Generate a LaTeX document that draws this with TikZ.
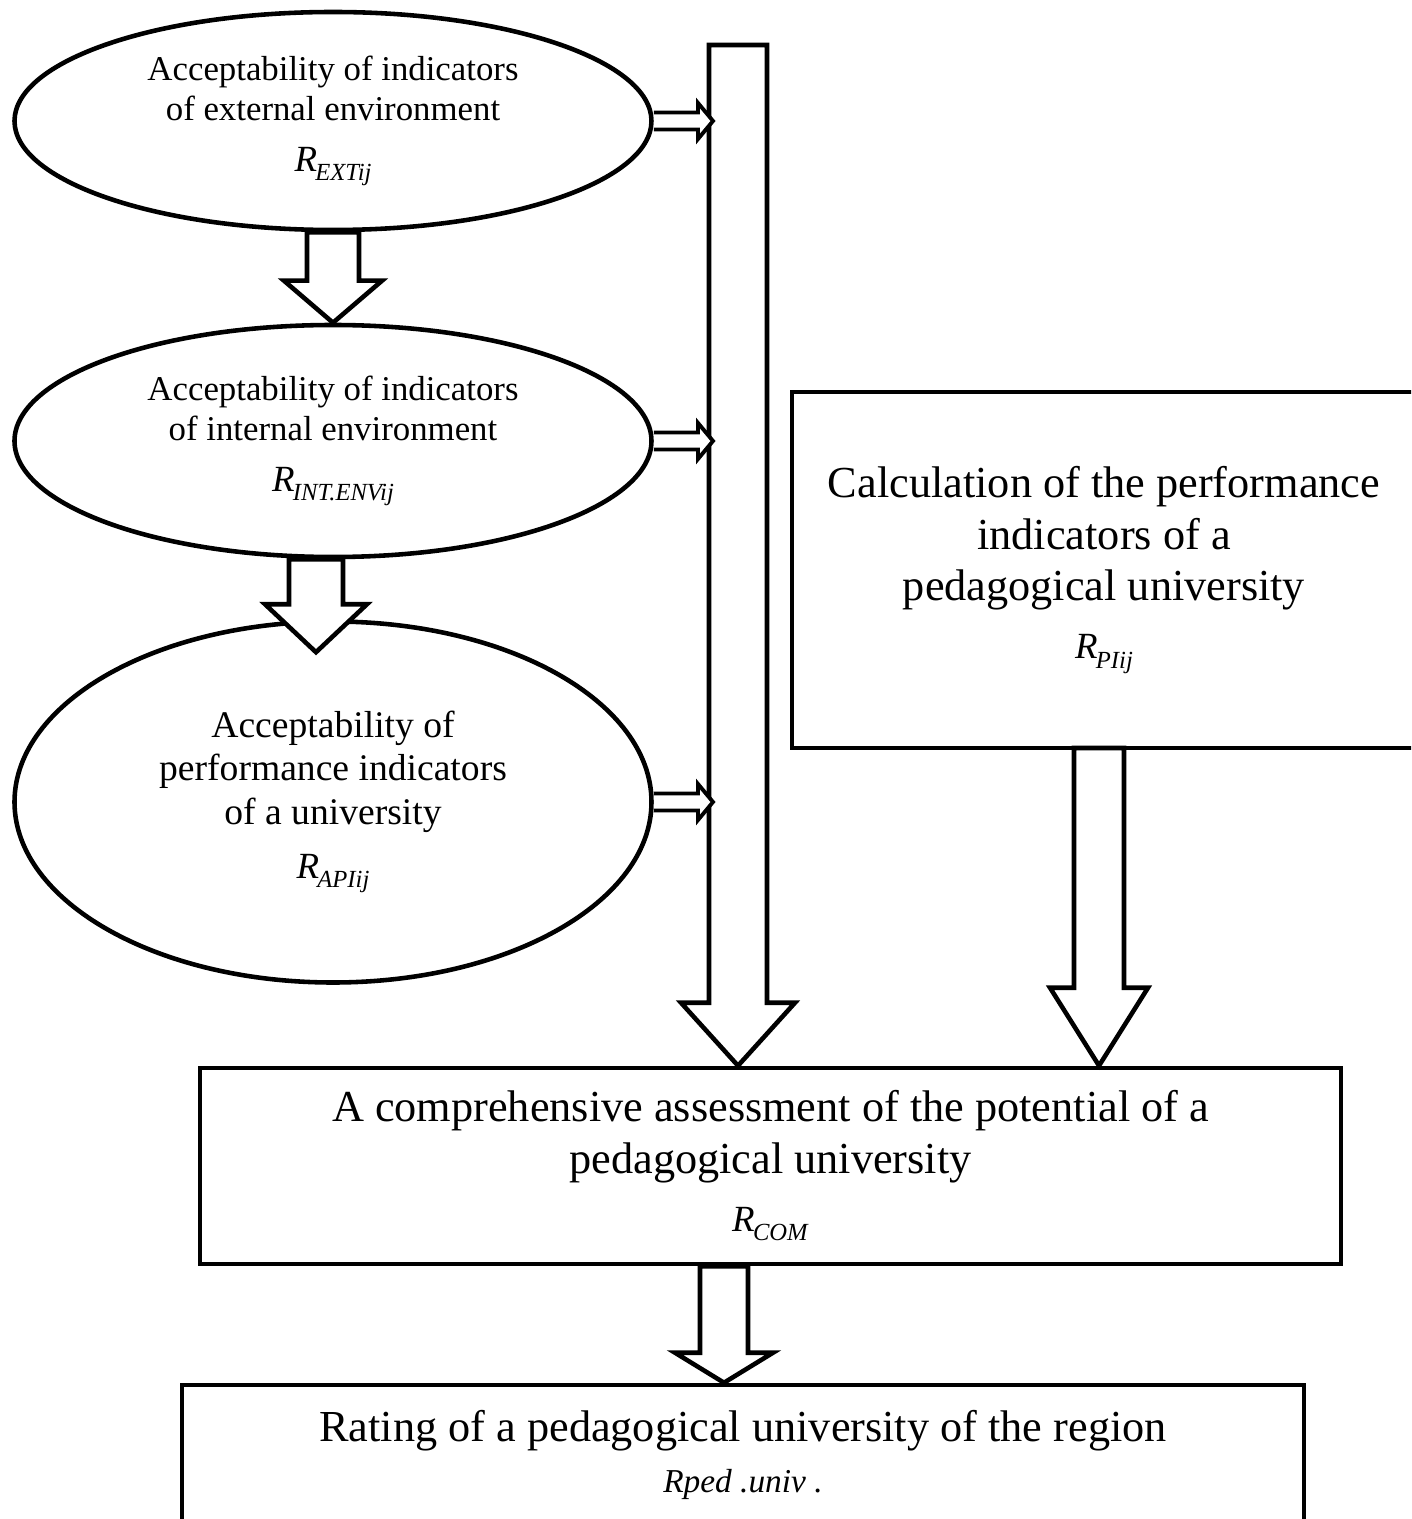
\documentclass[tikz,border=0pt]{standalone}
\usepackage{fontspec}
\setmainfont{Liberation Serif}
\usepackage{tikz}
\usetikzlibrary{arrows.meta,calc,shapes.geometric}

% hollow block arrow: start, tip, shaft half width, head half width, head length
\newcommand{\fatarrow}[5]{%
  \draw[blockarr] let \p1=(#1), \p2=(#2) in
    (\x2-#3,\y1) -- (\x2-#3,\y2+#5) -- (\x2-#4,\y2+#5) -- (\x2,\y2)
    -- (\x2+#4,\y2+#5) -- (\x2+#3,\y2+#5) -- (\x2+#3,\y1) -- cycle;}
% same, pointing right and open at its start
\newcommand{\sidearrow}[5]{%
  \draw[blockarr, line width=1.1pt] let \p1=(#1), \p2=(#2) in
    (\x1,\y2+#3) -- (\x2-#5,\y2+#3) -- (\x2-#5,\y2+#4) -- (\x2,\y2)
    -- (\x2-#5,\y2-#4) -- (\x2-#5,\y2-#3) -- (\x1,\y2-#3);}
\newcommand{\ridx}[1]{{\fontsize{10.5}{12}\selectfont\textit{R}\kern-.5pt\raisebox{-.55ex}{\fontsize{7}{8}\selectfont\textit{#1}}}}

\begin{document}
\begin{tikzpicture}[line width=1.3pt,
    oval/.style={draw, ellipse, inner sep=0pt, align=center, minimum width=6.37cm,
      font=\fontsize{9.9}{11.4}\selectfont},
    box/.style={draw, rectangle, inner sep=0pt, align=center,
      font=\fontsize{12.6}{14.6}\selectfont},
    blockarr/.style={draw, fill=white, line join=miter}]
    \clip (0,0) rectangle (14.11,-15.19);
    \fill[white] (0,0) rectangle (14.11,-15.19);

    % left column of ellipses
    \node[oval, minimum height=2.18cm] (ext) at (3.33,-1.21)
      {Acceptability of indicators\\of external environment\\[3pt]\ridx{EXTij}};
    \node[oval, minimum height=2.32cm] (int) at (3.33,-4.41)
      {Acceptability of indicators\\of internal environment\\[3pt]\ridx{INT.ENVij}};
    \node[oval, minimum height=3.61cm, font=\fontsize{10.7}{12.4}\selectfont] (api) at (3.33,-8.02)
      {Acceptability of\\performance indicators\\of a university\\[3pt]\ridx{APIij}};

    % boxes
    \node[box, minimum width=6.24cm, minimum height=3.56cm] (calcBox) at (11.04,-5.70)
      {Calculation of the performance\\indicators of a\\pedagogical university\\[2pt]\ridx{PIij}};
    \node[box, minimum width=11.41cm, minimum height=1.96cm] (comp) at (7.705,-11.66)
      {A comprehensive assessment of the potential of a\\pedagogical university\\[2pt]\ridx{COM}};
    \node[box, minimum width=11.22cm, minimum height=1.40cm] (rating) at (7.43,-14.55)
      {Rating of a pedagogical university of the region\\[0pt]
       {\fontsize{9.5}{11}\selectfont\textit{Rped .univ .}}};

    \coordinate (mainTop) at (7.38,-0.45);
    \coordinate (rightTop) at (10.99,-7.48);
    \coordinate (shaftL) at (7.13,0);

    % block arrows
    \fatarrow{ext.south}{int.north}{0.26cm}{0.49cm}{0.42cm}
    \fatarrow{int.south}{$(api.north)+(-0.17,-0.33)$}{0.27cm}{0.51cm}{0.48cm}
    \fatarrow{mainTop}{comp.north -| mainTop}{0.29cm}{0.57cm}{0.63cm}
    \fatarrow{rightTop}{comp.north -| rightTop}{0.25cm}{0.49cm}{0.78cm}
    \fatarrow{comp.south}{$(rating.north)+(-0.19,0)$}{0.24cm}{0.49cm}{0.30cm}

    \foreach \e in {ext,int,api}{
      \sidearrow{\e.east}{\e.east -| shaftL}{0.085cm}{0.18cm}{0.15cm}
    }
\end{tikzpicture}
\end{document}
